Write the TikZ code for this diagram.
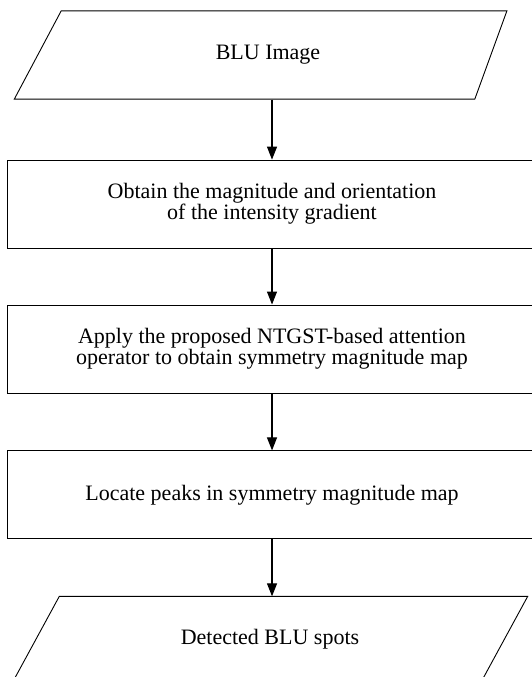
\documentclass[tikz,border=0pt]{standalone}
\usepackage{fontspec}
\setmainfont{Liberation Serif}
\usepackage{tikz}
\usetikzlibrary{arrows.meta,positioning,shapes.geometric}

\begin{document}
\begin{tikzpicture}[x=1pt, y=1pt, font=\fontsize{22}{21}\selectfont,
    iobox/.style={draw, trapezium, line width=0.9pt,
      minimum height=86pt, align=center, inner sep=2pt},
    stepbox/.style={draw, rectangle, line width=0.9pt, minimum width=530pt,
      minimum height=88pt, align=center},
    arr/.style={-{Triangle[length=13pt,width=10pt]}, line width=1.1pt}]
  \useasboundingbox (0,0) rectangle (531,-677);

  \node[iobox, trapezium left angle=62, trapezium right angle=110,
    minimum width=495pt] (img) at (268,-55) {BLU Image};
  \node[stepbox, below=60pt of img, xshift=4pt] (grad)
    {Obtain the magnitude and orientation\\of the intensity gradient};
  \node[stepbox, below=56pt of grad] (attn)
    {Apply the proposed NTGST-based attention\\operator to obtain symmetry magnitude map};
  \node[stepbox, below=57pt of attn] (peaks) {Locate peaks in symmetry magnitude map};
  \node[minimum width=468pt, minimum height=86pt, below=57pt of peaks, xshift=-2pt]
    (spots) {Detected BLU spots};
  % output parallelogram
  \draw[line width=0.9pt] ([xshift=23.5pt]spots.north west) -- ([xshift=23.5pt]spots.north east)
    -- ([xshift=-23.5pt]spots.south east) -- ([xshift=-23.5pt]spots.south west) -- cycle;

  \draw[arr] (grad.north |- img.south) -- (grad.north);
  \draw[arr] (grad) -- (attn);
  \draw[arr] (attn) -- (peaks);
  \draw[arr] (peaks) -- (peaks.south |- spots.north);
\end{tikzpicture}
\end{document}
